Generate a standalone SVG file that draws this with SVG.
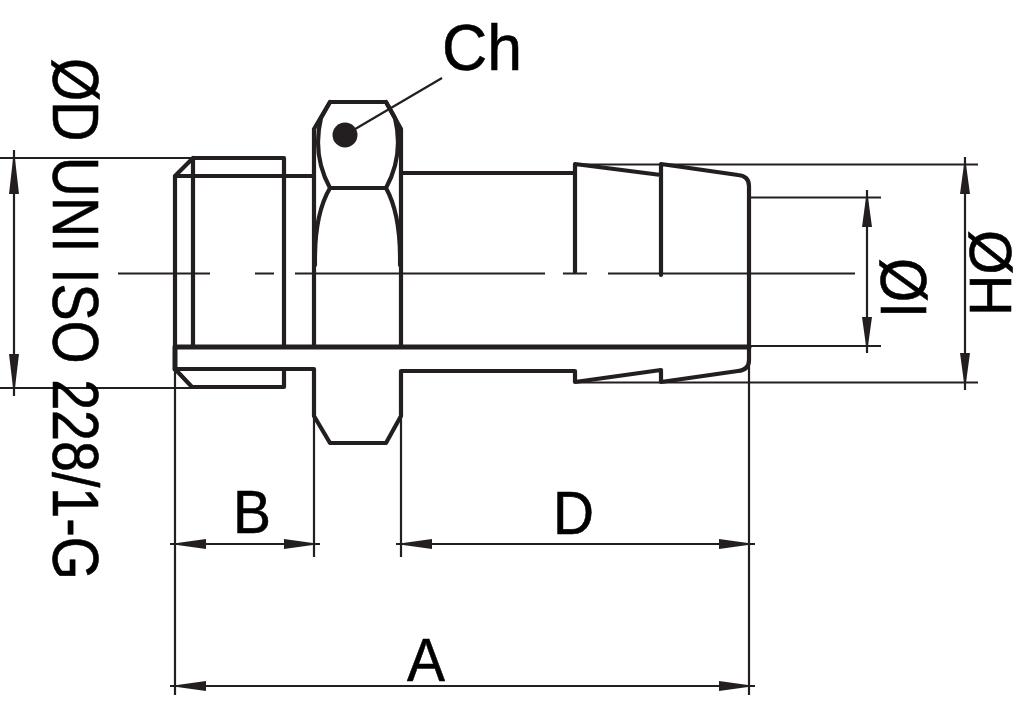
<svg xmlns="http://www.w3.org/2000/svg" width="1024" height="711" viewBox="0 0 1024 711">
<style>
.o{fill:none;stroke:#231f20;stroke-width:4.2;stroke-linejoin:round;stroke-linecap:round}
.h{fill:none;stroke:#231f20;stroke-width:5;stroke-linejoin:round;stroke-linecap:round}
.t{fill:none;stroke:#231f20;stroke-width:2.2}
.tx{font-family:"Liberation Sans",Arial,sans-serif;fill:#000;stroke:#000;stroke-width:.6}
.a{fill:#231f20}
</style>
<rect width="1024" height="711" fill="#fff"/>
<g id="fitting">
<path class="o" d="M175 176H314M193 158H284V176M175 176L193 158M175 176V347M193 158V347M284 176V347"/>
<path class="h" d="M175 347H749M175 347V369"/>
<path class="o" d="M175 369H314V416L330 443H386L401 416V371H575V382L661 370V382L738 371Q749 370 749 360V186Q749 176 738 175L661 164V275M661 175L575 164V272"/>
<path class="o" d="M175 369L192 387H284V369"/>
<path class="o" d="M314 347V129L330 102H386L401 129V347"/>
<path class="o" d="M401 173H575"/>
<path class="o" d="M330 188H386M330 102L321 118Q312 155 330 188M386 102L395 118Q404 155 386 188M330 188Q314 215 315 265M386 188Q401 215 400 265"/>
<circle cx="345" cy="135" r="12.500" fill="#231f20"/>
</g>
<g id="connectors">
<path class="t" d="M118 273.500H210M255 273.500H274M295 273.500H545M563 273.500H587M608 273.500H855"/>
<path class="t" d="M345 135L442 78"/>
<path class="t" d="M0 158H193M0 388H192M14 150V396"/>
<path class="t" d="M575 164.500H978M575 382.500H978M965 157V390"/>
<path class="t" d="M749 197.500H881M749 346H881M867 190V353"/>
<path class="t" d="M175 370V695M749 360V695M314 416V557M401 416V557"/>
<path class="t" d="M170 544H320M396 544H755M170 686H755"/>
<g class="a">
<path d="M14 150L19 194H9ZM14 396L9 354H19Z"/>
<path d="M965 157L970 194H960ZM965 390L960 353H970Z"/>
<path d="M867 190L872 227H862ZM867 353L862 317H872Z"/>
<path d="M170 544L206 539V549ZM320 544L284 549V539Z"/>
<path d="M396 544L432 539V549ZM755 544L719 549V539Z"/>
<path d="M170 686L206 681V691ZM755 686L719 691V681Z"/>
</g>
</g>
<g id="labels">
<text class="tx" x="442" y="70" font-size="64" textLength="80" lengthAdjust="spacingAndGlyphs">Ch</text>
<text class="tx" x="233" y="533" font-size="61" textLength="38" lengthAdjust="spacingAndGlyphs">B</text>
<text class="tx" x="553" y="534" font-size="61" textLength="41" lengthAdjust="spacingAndGlyphs">D</text>
<text class="tx" x="407" y="681" font-size="61" textLength="38" lengthAdjust="spacingAndGlyphs">A</text>
<text class="tx" font-size="65" textLength="522" lengthAdjust="spacingAndGlyphs" transform="translate(53 58) rotate(90)">ØD UNI ISO 228/1-G</text>
<text class="tx" font-size="65" textLength="60" lengthAdjust="spacingAndGlyphs" transform="translate(926 318) rotate(-90)">IØ</text>
<text class="tx" font-size="60" textLength="86" lengthAdjust="spacingAndGlyphs" transform="translate(1011 316) rotate(-90)">HØ</text>
</g>
</svg>
